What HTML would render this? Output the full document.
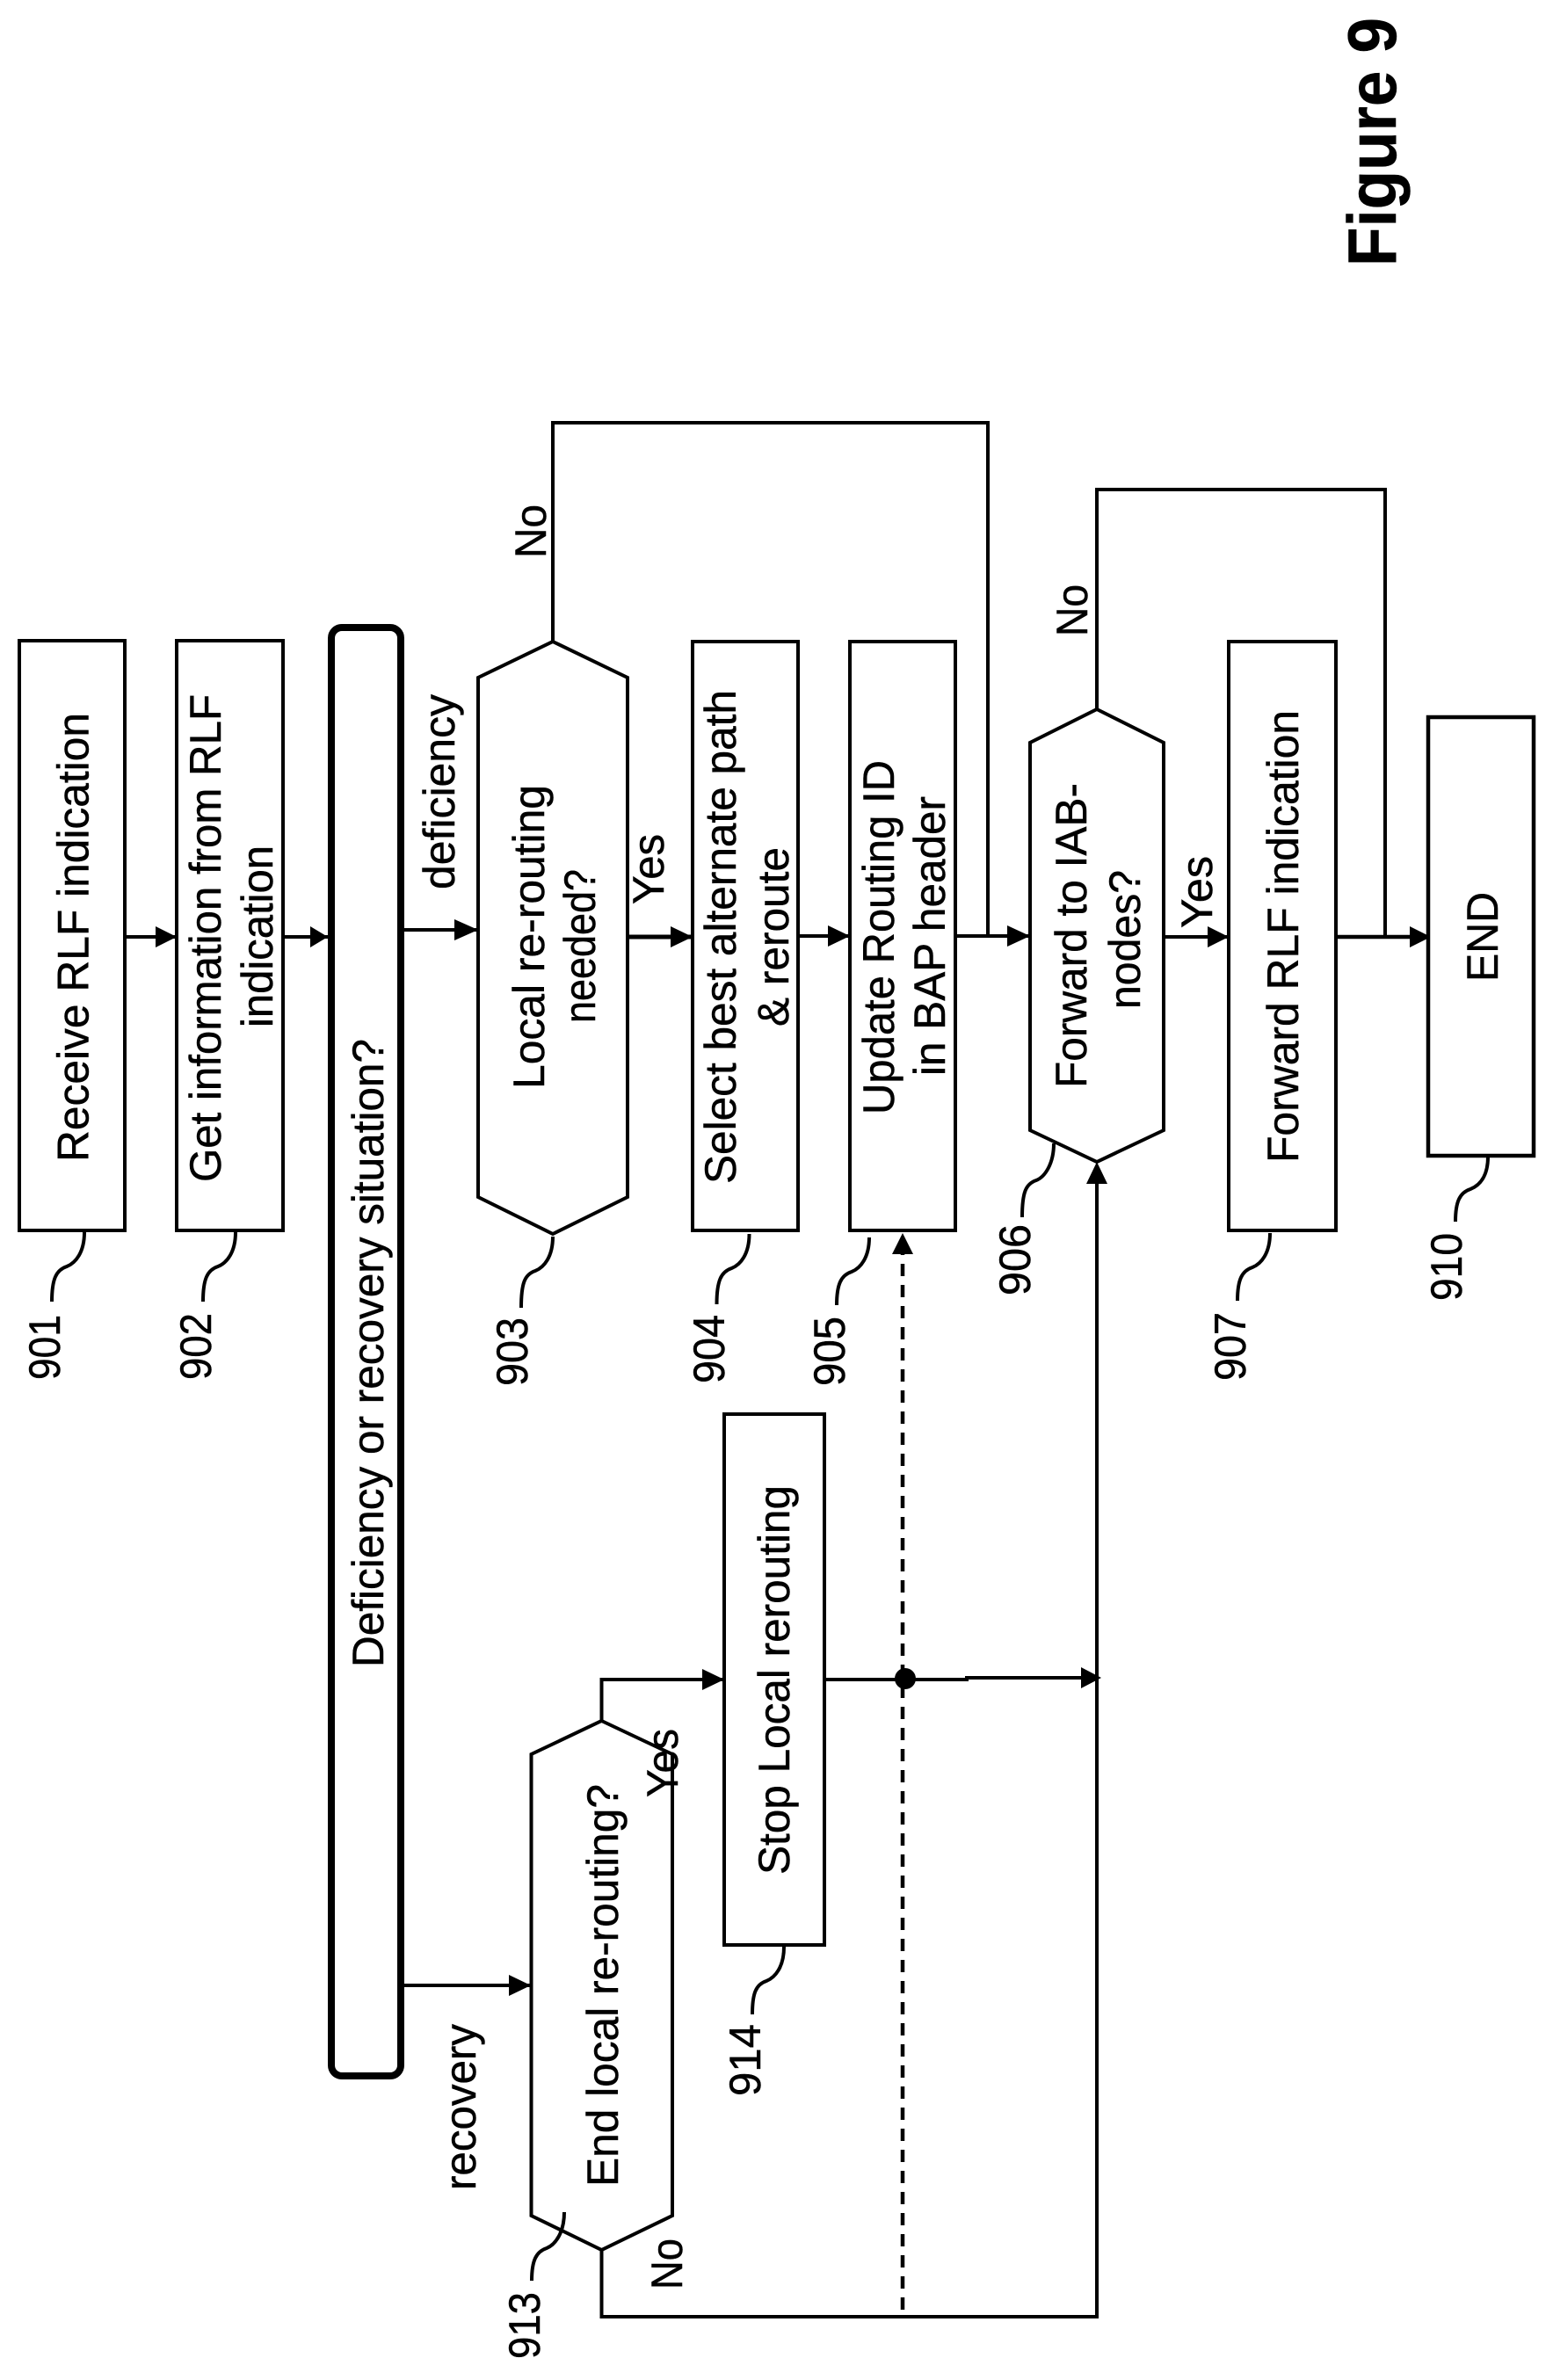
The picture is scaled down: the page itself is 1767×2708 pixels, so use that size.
<!DOCTYPE html>
<html>
<head>
<meta charset="utf-8">
<style>
html,body{margin:0;padding:0;background:#fff;}
svg{display:block;}
text{font-family:"Liberation Sans",sans-serif;font-size:50px;fill:#000;stroke:#000;stroke-width:0.5;}
.s{fill:none;stroke:#000;stroke-width:4;}
.b{fill:#fff;stroke:#000;stroke-width:4;}
.a{fill:#000;stroke:none;}
</style>
</head>
<body>
<svg width="1767" height="2708" viewBox="0 0 1767 2708" xmlns="http://www.w3.org/2000/svg">
<!-- connectors -->
<path class="s" d="M142 1066H201"/>
<path class="s" d="M322 1066H373"/>
<path class="s" d="M460 1058H544"/>
<path class="s" style="stroke-width:5" d="M714 1066H788"/>
<path class="s" d="M908 1065H967"/>
<path class="s" d="M1087 1065H1172"/>
<path class="s" d="M1324 1066H1398"/>
<path class="s" style="stroke-width:4.5" d="M1520 1066H1625"/>
<path class="s" d="M629 730V481H1124V1065"/>
<path class="s" d="M1248 807V557H1576V1066"/>
<path class="s" d="M460 2259H604"/>
<path class="s" d="M684.5 1958V1911H824"/>
<path class="s" d="M938 1911H1100V1909H1240"/>
<path class="s" d="M684.5 2560V2636H1248V1340"/>
<path class="s" style="stroke-width:4.5" stroke-dasharray="14 10" d="M1027 2628V1422"/>
<!-- arrowheads (pointing right) -->
<path class="a" d="M201 1066L177 1054V1078Z"/>
<path class="a" d="M373 1066L353 1054V1078Z"/>
<path class="a" d="M544 1058L517 1046V1070Z"/>
<path class="a" d="M788 1066L763 1054V1078Z"/>
<path class="a" d="M967 1065L942 1053V1077Z"/>
<path class="a" d="M1172 1065L1146 1053V1077Z"/>
<path class="a" d="M1398 1066L1374 1054V1078Z"/>
<path class="a" d="M1628 1066L1604 1054V1078Z"/>
<path class="a" d="M604 2259L579 2247V2271Z"/>
<path class="a" d="M824 1911L799 1899V1923Z"/>
<path class="a" d="M1253 1909L1230 1897V1921Z"/>
<path class="a" d="M1248 1322L1236 1347H1260Z"/>
<path class="a" d="M1027 1403L1015 1427H1039Z"/>
<circle class="a" cx="1030" cy="1910" r="12"/>
<!-- nodes -->
<rect class="b" x="22" y="729" width="120" height="671"/>
<rect class="b" x="201" y="729" width="121" height="671"/>
<rect x="377" y="714" width="79" height="1648" rx="12" ry="12" fill="#fff" stroke="#000" stroke-width="8"/>
<path class="b" d="M629 730L714 771V1362L629 1404L544 1362V771Z"/>
<rect class="b" x="788" y="730" width="120" height="670"/>
<rect class="b" x="967" y="730" width="120" height="670"/>
<path class="b" d="M1248 807L1324 845V1286L1248 1322L1172 1286V845Z"/>
<rect class="b" x="1398" y="730" width="122" height="670"/>
<rect class="b" style="stroke-width:4.5" x="1625" y="816" width="120" height="499"/>
<path class="b" d="M684.5 1958L765 1996V2521L684.5 2560L604.5 2521V1996Z"/>
<rect class="b" x="824" y="1609" width="114" height="604"/>
<!-- leaders -->
<path class="s" d="M96 1402c0 23-10 35-20 39c-12 4-17 14-17 40"/>
<path class="s" d="M268 1402c0 23-10 35-20 39c-12 4-17 14-17 40"/>
<path class="s" d="M629 1407c0 23-10 35-20 39c-12 4-16 14-16 42"/>
<path class="s" d="M852.5 1404c0 23-10 35-20 39c-12 4-17 14-17 41"/>
<path class="s" d="M989 1408c0 23-10 35-20 39c-12 4-17 14-17 38"/>
<path class="s" d="M1199 1301c0 23-10 38-20 42c-12 4-16 14-16 42"/>
<path class="s" d="M1445 1403c0 23-10 35-20 39c-12 4-17 14-17 38"/>
<path class="s" d="M1693 1316c0 23-10 33-20 37c-12 4-17 14-17 37"/>
<path class="s" d="M642 2517c0 23-10 37-20 41c-12 4-17 14-17 37"/>
<path class="s" d="M892 2215c0 23-10 35-20 39c-12 4-16 14-16 38"/>
<!-- labels -->
<text transform="translate(1588 303) rotate(-90)" textLength="283" lengthAdjust="spacingAndGlyphs" style="font-size:78px;font-weight:bold">Figure 9</text>
<text transform="translate(100.5 1322) rotate(-90)" textLength="511" lengthAdjust="spacingAndGlyphs">Receive RLF indication</text>
<text transform="translate(251 1345) rotate(-90)" textLength="555" lengthAdjust="spacingAndGlyphs">Get information from RLF</text>
<text transform="translate(310 1169) rotate(-90)" textLength="207" lengthAdjust="spacingAndGlyphs">indication</text>
<text transform="translate(436 1897) rotate(-90)" textLength="715" lengthAdjust="spacingAndGlyphs">Deficiency or recovery situation?</text>
<text transform="translate(517 1012) rotate(-90)" textLength="222" lengthAdjust="spacingAndGlyphs">deficiency</text>
<text transform="translate(619 1239) rotate(-90)" textLength="346" lengthAdjust="spacingAndGlyphs">Local re-routing</text>
<text transform="translate(677 1164) rotate(-90)" textLength="175" lengthAdjust="spacingAndGlyphs">needed?</text>
<text transform="translate(755 1029) rotate(-90)" textLength="80" lengthAdjust="spacingAndGlyphs">Yes</text>
<text transform="translate(621 635) rotate(-90)" textLength="61" lengthAdjust="spacingAndGlyphs">No</text>
<text transform="translate(837 1347) rotate(-90)" textLength="562" lengthAdjust="spacingAndGlyphs">Select best alternate path</text>
<text transform="translate(897 1168) rotate(-90)" textLength="204" lengthAdjust="spacingAndGlyphs">&amp; reroute</text>
<text transform="translate(1017 1268) rotate(-90)" textLength="403" lengthAdjust="spacingAndGlyphs">Update Routing ID</text>
<text transform="translate(1075 1224) rotate(-90)" textLength="318" lengthAdjust="spacingAndGlyphs">in BAP header</text>
<text transform="translate(1236 1238) rotate(-90)" textLength="347" lengthAdjust="spacingAndGlyphs">Forward to IAB-</text>
<text transform="translate(1297 1148) rotate(-90)" textLength="158" lengthAdjust="spacingAndGlyphs">nodes?</text>
<text transform="translate(1237 724) rotate(-90)" textLength="59" lengthAdjust="spacingAndGlyphs">No</text>
<text transform="translate(1379 1056) rotate(-90)" textLength="82" lengthAdjust="spacingAndGlyphs">Yes</text>
<text transform="translate(1477 1323) rotate(-90)" textLength="515" lengthAdjust="spacingAndGlyphs">Forward RLF indication</text>
<text transform="translate(1704 1117) rotate(-90)" textLength="102" lengthAdjust="spacingAndGlyphs">END</text>
<text transform="translate(541 2492) rotate(-90)" textLength="189" lengthAdjust="spacingAndGlyphs">recovery</text>
<text transform="translate(703 2488) rotate(-90)" textLength="458" lengthAdjust="spacingAndGlyphs">End local re-routing?</text>
<text transform="translate(771 2045) rotate(-90)" textLength="78" lengthAdjust="spacingAndGlyphs">Yes</text>
<text transform="translate(776 2605) rotate(-90)" textLength="58" lengthAdjust="spacingAndGlyphs">No</text>
<text transform="translate(898 2133) rotate(-90)" textLength="443" lengthAdjust="spacingAndGlyphs">Stop Local rerouting</text>
<text transform="translate(68 1570) rotate(-90)" textLength="74" lengthAdjust="spacingAndGlyphs">901</text>
<text transform="translate(240 1570) rotate(-90)" textLength="76" lengthAdjust="spacingAndGlyphs">902</text>
<text transform="translate(600 1577) rotate(-90)" textLength="78" lengthAdjust="spacingAndGlyphs">903</text>
<text transform="translate(824 1574) rotate(-90)" textLength="78" lengthAdjust="spacingAndGlyphs">904</text>
<text transform="translate(961 1577) rotate(-90)" textLength="79" lengthAdjust="spacingAndGlyphs">905</text>
<text transform="translate(1172 1474) rotate(-90)" textLength="81" lengthAdjust="spacingAndGlyphs">906</text>
<text transform="translate(1417 1571) rotate(-90)" textLength="78" lengthAdjust="spacingAndGlyphs">907</text>
<text transform="translate(1663 1480) rotate(-90)" textLength="77" lengthAdjust="spacingAndGlyphs">910</text>
<text transform="translate(614 2684) rotate(-90)" textLength="76" lengthAdjust="spacingAndGlyphs">913</text>
<text transform="translate(865 2385) rotate(-90)" textLength="82" lengthAdjust="spacingAndGlyphs">914</text>
</svg>
</body>
</html>
